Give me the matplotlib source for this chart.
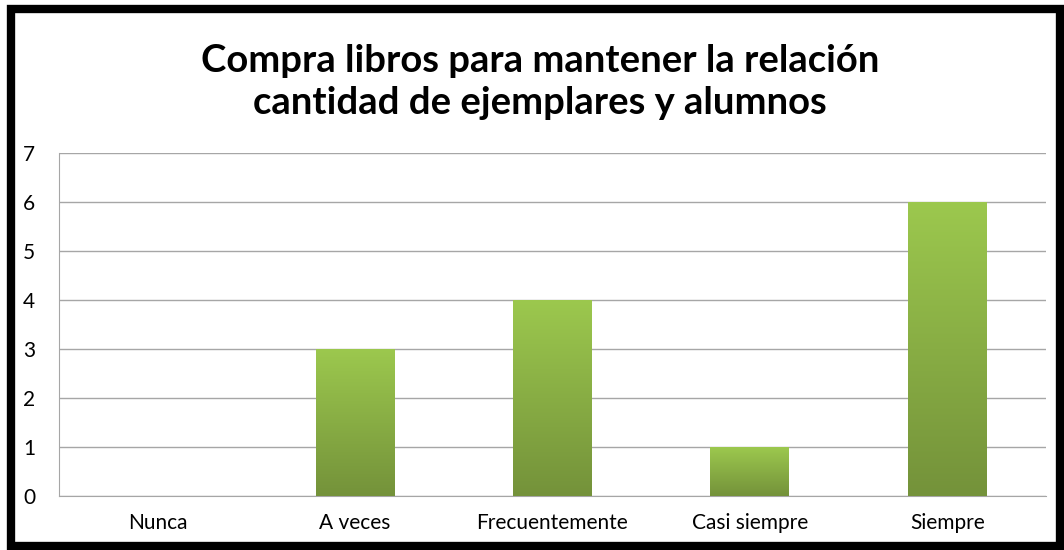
import matplotlib
matplotlib.use("Agg")
import matplotlib.pyplot as plt
import numpy as np
from matplotlib.patches import Rectangle
from matplotlib.colors import LinearSegmentedColormap

plt.rcParams["font.family"] = ["Lato", "DejaVu Sans"]

categories = ["Nunca", "A veces", "Frecuentemente", "Casi siempre", "Siempre"]
values = [0, 3, 4, 1, 6]
title = "Compra libros para mantener la relación\ncantidad de ejemplares y alumnos"

TOP_GREEN = "#9CC84E"
BOTTOM_GREEN = "#74923A"
GRID = "#A6A6A6"

fig = plt.figure(figsize=(10.64, 5.5), dpi=100, facecolor="white")
ax = fig.add_axes([59 / 1064, 1 - 496 / 550, (1046 - 59) / 1064, (496 - 153) / 550])

x = np.arange(len(categories))
bars = ax.bar(x, values, width=0.4, color="none", edgecolor="none", zorder=3)

# vertical gradient in each bar, clipped to the bar
grad = np.linspace(0, 1, 256).reshape(-1, 1)
cmap = LinearSegmentedColormap.from_list("g", [BOTTOM_GREEN, TOP_GREEN])
for b in bars:
    if b.get_height() <= 0:
        continue
    x0, y0 = b.get_x(), b.get_y()
    w, h = b.get_width(), b.get_height()
    im = ax.imshow(grad, cmap=cmap, origin="lower", aspect="auto",
                   extent=[x0, x0 + w, y0, y0 + h], zorder=3)
    im.set_clip_path(b)

ax.set_xlim(-0.5, len(categories) - 0.5)
ax.set_ylim(0, 7)
ax.set_yticks(range(0, 8))
ax.set_xticks(x)
ax.set_xticklabels(categories)
ax.tick_params(axis="both", length=0, labelsize=15, colors="black")
ax.tick_params(axis="y", pad=17)
ax.tick_params(axis="x", pad=12)
ax.yaxis.grid(True, color=GRID, linewidth=1.0, zorder=0)
ax.set_axisbelow(True)
for side in ["top", "right"]:
    ax.spines[side].set_visible(False)
ax.spines["left"].set_color(GRID)
ax.spines["bottom"].set_color(GRID)

fig.text(540 / 1064, 1 - 82 / 550, title, ha="center", va="center",
         fontsize=27.5, fontweight="bold", linespacing=1.3)

# black frame around the whole chart
fig.patches.append(Rectangle((11 / 1064, 4 / 550), 1049 / 1064, 537 / 550,
                             transform=fig.transFigure, fill=False,
                             edgecolor="black", linewidth=6, zorder=10))

fig.savefig("out.png", dpi=100, facecolor="white")
